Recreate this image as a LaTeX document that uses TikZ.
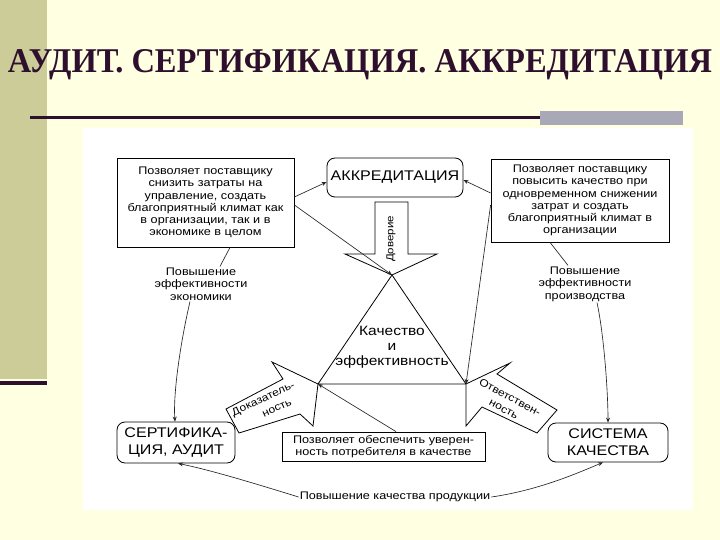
\documentclass[tikz,border=0pt]{standalone}
\usepackage{graphicx}
\usepackage{fontspec}
\setmainfont{Liberation Sans}
\newfontfamily\dfont[FakeStretch=1.15]{Liberation Sans}
\newfontfamily\tfont{Liberation Serif}
\usetikzlibrary{arrows.meta,calc}
\definecolor{bgcream}{HTML}{FFFFE1}
\definecolor{barkhaki}{HTML}{CCCC99}
\definecolor{titlecol}{HTML}{2E0F2E}
\definecolor{bargrey}{HTML}{A8A8B6}
\tikzset{
  dbox/.style={draw=black, line width=0.8pt, fill=white, align=center, inner sep=0pt,
    font=\dfont\fontsize{11}{12.2}\selectfont},
  rbox/.style={draw=black, line width=0.8pt, fill=white, rounded corners=8pt, align=center, inner sep=0pt,
    font=\dfont\fontsize{14}{17}\selectfont},
  lab/.style={align=center, inner sep=1pt, font=\dfont\fontsize{11}{12.5}\selectfont},
  blab/.style={inner sep=0pt, font=\dfont\fontsize{10.5}{14}\selectfont},
  barrow/.style={draw=black, line width=0.8pt, fill=white, line join=miter},
  conn/.style={draw=black!85, line width=0.65pt},
  tip/.style={-{Stealth[length=5pt,width=4pt]}}
}
\begin{document}
\begin{tikzpicture}[x=1pt,y=-1pt]
\useasboundingbox (0,0) rectangle (720,540);
% background
\fill[bgcream] (0,0) rectangle (720,540);
\fill[barkhaki] (0,0) rectangle (47,379);
\fill[titlecol] (0,381) rectangle (47,385);
\fill[white] (83,128) rectangle (693,510);
\fill[titlecol] (30,116.5) rectangle (540,119.5);
\fill[bargrey] (540,111) rectangle (683,125);
% title
\node[anchor=base, inner sep=0pt, text=titlecol] (title) at (360,73)
  {\resizebox{704pt}{23pt}{\tfont\bfseries АУДИТ. СЕРТИФИКАЦИЯ. АККРЕДИТАЦИЯ}};

% Доверие block arrow
\draw[barrow] (375,202) -- (408,202) -- (408,254) -- (437,254) -- (392,275)
  -- (345,254) -- (375,254) -- cycle;
\node[blab, rotate=90, font=\dfont\fontsize{10}{11}\selectfont] (dov) at (391,239) {Доверие};

% triangle
\coordinate (apex) at (392,275);
\coordinate (tcl) at (318,384);
\coordinate (tcr) at (466,384);
\draw[line width=0.8pt, fill=white] (apex) -- (tcl) -- (tcr) -- cycle;
\node[align=center, inner sep=0pt, font=\dfont\fontsize{13.5}{15}\selectfont] (qe) at (392,347)
  {Качество\\и\\эффективность};

% left block arrow
\draw[barrow] (226,409) -- (283,379) -- (272,362) -- (tcl) -- (313,426) -- (300,414)
  -- (239,433) -- cycle;
\node[blab, rotate=25, align=left] (dok) at (266,405) {Доказатель-\\\hspace*{27pt}ность};

% right block arrow
\draw[barrow] (tcr) -- (510,363) -- (497,374) -- (557,410) -- (537,433) -- (482,407)
  -- (466,426) -- cycle;
\node[blab, rotate=-28, align=center, font=\dfont\fontsize{10.5}{13.4}\selectfont] (otv) at (507,403) {Ответствен-\\ность};

% boxes
\node[dbox, minimum width=177pt, minimum height=89pt] (tl) at (205.5,202.5)
  {Позволяет поставщику\\снизить затраты на\\управление, создать\\благоприятный климат как\\в организации, так и в\\экономике в целом};
\node[rbox, minimum width=136pt, minimum height=39pt] (akk) at (395,177.5) {АККРЕДИТАЦИЯ};
\node[dbox, minimum width=178pt, minimum height=83pt] (tr) at (580,200.5)
  {Позволяет поставщику\\повысить качество при\\одновременном снижении\\затрат и создать\\благоприятный климат в\\организации};
\node[lab] (le) at (201,284) {Повышение\\эффективности\\экономики};
\node[lab] (re) at (585,284) {Повышение\\эффективности\\производства};
\node[rbox, minimum width=118pt, minimum height=41pt] (cert) at (176,442.5) {СЕРТИФИКА-\\ЦИЯ, АУДИТ};
\node[rbox, minimum width=120pt, minimum height=39pt] (sys) at (608,442.5) {СИСТЕМА\\КАЧЕСТВА};
\node[dbox, minimum width=203pt, minimum height=29pt] (bc) at (383.5,446.5)
  {Позволяет обеспечить уверен-\\ность потребителя в качестве};
\node[lab] (bl) at (395,497) {Повышение качества продукции};

% connectors
\draw[conn, tip] ([yshift=5.5pt]tl.east) -- ([yshift=-4.5pt]akk.west);
\draw[conn, tip] ([yshift=-2.5pt]tl.east) -- (apex);
\draw[conn, tip] ([yshift=7.5pt]tr.west) -- ([yshift=-2.5pt]akk.east);
\draw[conn, tip] ([yshift=-4.5pt]tr.west) -- (tcr);
\draw[conn, tip] ([xshift=12.5pt]bc.north) -- (tcl);
\draw[conn] ([xshift=24.5pt]tl.south) -- ([xshift=19pt]le.north);
\draw[conn, tip] ([xshift=-11pt]le.south) .. controls (181,340) and (173,392) .. ([xshift=-1pt]cert.north);
\draw[conn] ([xshift=-30pt]tr.south) -- ([xshift=-17pt]re.north);
\draw[conn, tip] ([xshift=12pt]re.south) .. controls (604,335) and (608,392) .. (sys.north);
\draw[conn, tip] (bl.west) .. controls (250,482) and (210,470) .. ([xshift=2pt]cert.south);
\draw[conn, tip] (bl.east) .. controls (540,490) and (580,472) .. ([xshift=-5pt]sys.south);
\end{tikzpicture}
\end{document}
